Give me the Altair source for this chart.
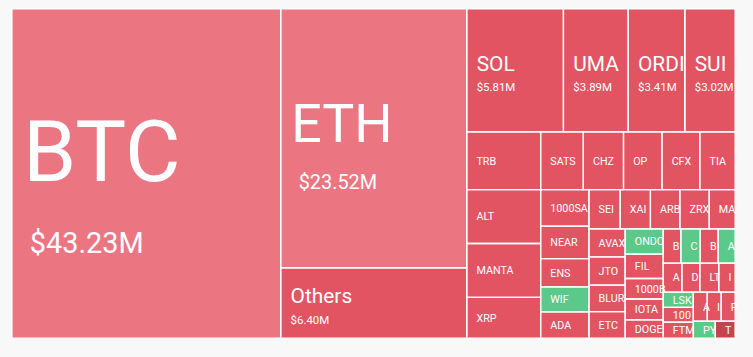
import altair as alt
import pandas as pd

# ---- data ----
names = ["BTC", "ETH", "Others",
         "SOL", "UMA", "ORDI", "SUI",
         "TRB", "ALT", "MANTA", "XRP",
         "SATS", "CHZ", "OP", "CFX", "TIA",
         "1000SATS", "NEAR", "ENS", "WIF", "ADA",
         "SEI", "XAI", "ARB", "ZRX", "MATIC",
         "AVAX", "JTO", "BLUR", "ETC",
         "ONDO", "FIL", "1000BONK", "IOTA", "DOGE",
         "BCH", "CTSI", "BNB", "ACE",
         "APT", "DOT", "LTC", "ICP",
         "LSK", "1000PEPE", "FTM",
         "AXS", "INJ", "PEOPLE",
         "PYTH", "TURBO"]
values = [43.23, 23.52, 6.40,
          5.81, 3.89, 3.41, 3.02,
          2.08, 1.945, 1.945, 1.47,
          1.20, 1.133, 1.083, 1.066, 0.993,
          0.861, 0.767, 0.664, 0.594, 0.619,
          0.597, 0.579, 0.564, 0.560, 0.496,
          0.497, 0.497, 0.469, 0.469,
          0.473, 0.451, 0.381, 0.388, 0.340,
          0.298, 0.325, 0.301, 0.285,
          0.264, 0.253, 0.267, 0.230,
          0.225, 0.219, 0.234,
          0.199, 0.199, 0.199,
          0.181, 0.164]
trend = ["light", "light", "down",
         "down", "down", "down", "down",
         "down", "down", "down", "down",
         "down", "down", "down", "down", "down",
         "down", "down", "down", "up", "down",
         "down", "down", "down", "down", "down",
         "down", "down", "down", "down",
         "up", "down", "down", "down", "down",
         "down", "up", "down", "up",
         "down", "down", "down", "down",
         "up", "down", "down",
         "down", "down", "down",
         "up", "deep"]
# how many consecutive tiles the squarified layout put in each strip
row_sizes = [1, 2, 4, 4, 5, 5, 5, 4, 5, 4, 4, 3, 3, 1, 1]

trend_domain = ["light", "down", "up", "deep"]
trend_colors = ["#eb7682", "#e35463", "#5bc98a", "#c4434f"]

W, H = 727, 331


def squarify_strips(vals, sizes, width, height):
    """d3-style squarified placement of the given strips."""
    rects = []
    x0, y0, x1, y1 = 0.0, 0.0, float(width), float(height)
    remaining = float(sum(vals))
    i = 0
    for n in sizes:
        row = vals[i:i + n]
        i += n
        rv = float(sum(row))
        dx, dy = x1 - x0, y1 - y0
        if dx < dy:
            h = dy * rv / remaining
            cx = x0
            for v in row:
                w = dx * v / rv
                rects.append((cx, y0, cx + w, y0 + h))
                cx += w
            y0 += h
        else:
            w = dx * rv / remaining
            cy = y0
            for v in row:
                h = dy * v / rv
                rects.append((x0, cy, x0 + w, cy + h))
                cy += h
            x0 += w
        remaining -= rv
    return rects


rects = squarify_strips(values, row_sizes, W, H)

tiles = pd.DataFrame({
    "name": names, "value": values, "trend": trend,
    "x0": [r[0] for r in rects], "y0": [r[1] for r in rects],
    "x1": [r[2] for r in rects], "y1": [r[3] for r in rects],
})

label_rows = []
for n, v, (a, b, c, d) in zip(names, values, rects):
    w, h = c - a, d - b
    cy = (b + d) / 2
    if v >= 40:
        fs1, fs2 = 86, 29
    elif v >= 20:
        fs1, fs2 = 54, 20
    elif v >= 3:
        fs1, fs2 = 21, 11.5
    else:
        fs1, fs2 = 10.8, None
    pad = 9.5 + 0.02 * fs1
    lim1 = max(w - pad + 3, fs1 * 0.72)
    if fs2 is None:
        label_rows.append({"label": n, "tx": a + pad, "ty": cy + 0.36 * fs1,
                           "fs": fs1, "lim": lim1})
    else:
        cap1, cap2, gap = 0.72 * fs1, 0.72 * fs2, 0.6 * fs1
        block = cap1 + gap + cap2
        top = cy - block / 2 + 0.15 * fs1
        label_rows.append({"label": n, "tx": a + pad, "ty": top + cap1,
                           "fs": fs1, "lim": lim1})
        vpad = 18 if fs2 >= 15 else pad
        label_rows.append({"label": "${:.2f}M".format(v), "tx": a + vpad,
                           "ty": top + cap1 + gap + cap2,
                           "fs": fs2, "lim": max(w - vpad + 3, fs2)})
labels = pd.DataFrame(label_rows)

xs = alt.Scale(domain=[0, W], nice=False, zero=False)
ys = alt.Scale(domain=[0, H], nice=False, zero=False, reverse=True)

base = alt.Chart(tiles).encode(
    x=alt.X("x0:Q", scale=xs, axis=None),
    x2="x1:Q",
    y=alt.Y("y0:Q", scale=ys, axis=None),
    y2="y1:Q",
)

fill_layer = base.mark_rect(strokeWidth=0).encode(
    color=alt.Color("trend:N", scale=alt.Scale(domain=trend_domain, range=trend_colors), legend=None),
)

border_layer = base.mark_rect(fillOpacity=0, stroke="white", strokeWidth=1.3)

text_layer = alt.Chart(labels).mark_text(
    align="left", baseline="alphabetic", color="white", font="Roboto",
    limit=alt.ExprRef("datum.lim"), ellipsis="\u200b",
).encode(
    x=alt.X("tx:Q", scale=xs, axis=None),
    y=alt.Y("ty:Q", scale=ys, axis=None),
    text="label:N",
    size=alt.Size("fs:Q", scale=None, legend=None),
)

chart = alt.layer(fill_layer, text_layer, border_layer).properties(
    width=W, height=H,
    padding={"left": 11, "top": 7, "right": 15, "bottom": 19},
    background="#f8f8f8",
).configure_view(stroke=None)

chart.save("out.html", embed_options={"renderer": "svg", "actions": False})
